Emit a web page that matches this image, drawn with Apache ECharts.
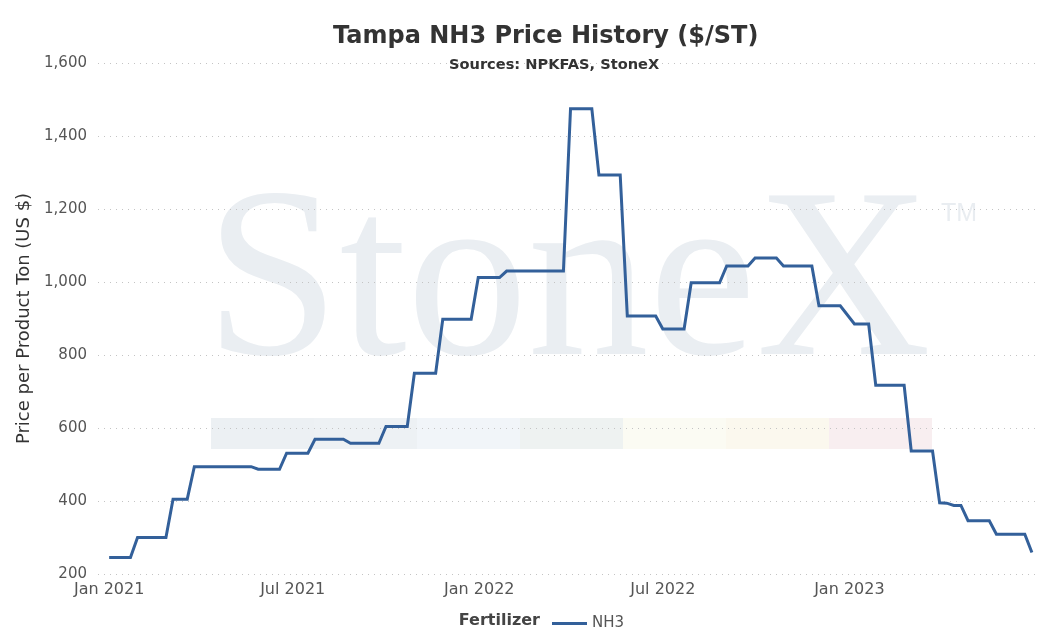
<!DOCTYPE html>
<html>
<head>
<meta charset="utf-8">
<script src="https://cdn.jsdelivr.net/npm/echarts@6/dist/echarts.min.js"></script>
<style>html,body{margin:0;padding:0;background:#fff}#c{width:1061px;height:643px}</style>
</head>
<body>
<div id="c"></div>
<script>
// Weekly price levels (first week date, last week date of the level, $/ST)
const levelStart = ['2021-01-01','2021-01-29','2021-03-05','2021-03-26','2021-05-28','2021-06-25','2021-07-23','2021-08-27','2021-10-01','2021-10-29','2021-11-26','2021-12-31','2022-01-28','2022-04-01','2022-04-29','2022-05-27','2022-07-01','2022-07-29','2022-09-02','2022-09-30','2022-10-28','2022-12-02','2023-01-06','2023-01-27','2023-03-03','2023-03-31','2023-04-07','2023-04-14','2023-04-28','2023-05-26','2023-06-30'];
const levelEnd   = ['2021-01-22','2021-02-26','2021-03-19','2021-05-21','2021-06-18','2021-07-16','2021-08-20','2021-09-24','2021-10-22','2021-11-19','2021-12-24','2022-01-21','2022-03-25','2022-04-22','2022-05-20','2022-06-24','2022-07-22','2022-08-26','2022-09-23','2022-10-21','2022-11-25','2022-12-23','2023-01-20','2023-02-24','2023-03-24','2023-03-31','2023-04-07','2023-04-21','2023-05-19','2023-06-23','2023-06-30'];
const nh3Price   = [245,300,405,494,487,531,569,558,604,750,898,1012,1030,1475,1293,907,871,998,1044,1066,1044,935,885,717,537,395,394,388,346,309,259];
const xTickLabels = ['2021-01-01','2021-07-01','2022-01-01','2022-07-01','2023-01-01'];
const xRange = ['2020-12-21','2023-07-07'];
const yTicks = [200,400,600,800,1000,1200,1400,1600];
const monthNames = ['Jan','Feb','Mar','Apr','May','Jun','Jul','Aug','Sep','Oct','Nov','Dec'];

function ts(s) { const p = s.split('-').map(Number); return Date.UTC(p[0], p[1]-1, p[2]); }

const points = [];
for (let i = 0; i < nh3Price.length; i++) {
  points.push([ts(levelStart[i]), nh3Price[i]]);
  if (levelEnd[i] !== levelStart[i]) points.push([ts(levelEnd[i]), nh3Price[i]]);
}

const FONT = '"DejaVu Sans", Verdana, sans-serif';
const bandColors = ['#ecf0f3','#edf1f4','#f1f5f9','#eef2f1','#fbfbf3','#fbf8ee','#f8eef0'];
const graphics = [];
bandColors.forEach((c, i) => {
  graphics.push({type:'rect', z:-1, silent:true, shape:{x:211 + i*103, y:418, width:103, height:31}, style:{fill:c}});
});
graphics.push({type:'text', z:-1, silent:true, style:{text:'StoneX', x:205, y:290, font:'242px "Liberation Serif"', fill:'#eaeef2', textAlign:'left', textVerticalAlign:'middle'}});
graphics.push({type:'text', z:-1, silent:true, style:{text:'TM', x:941, y:214, font:'25px "Liberation Sans"', fill:'#e9edf1', textAlign:'left', textVerticalAlign:'middle'}});
graphics.push({type:'text', silent:true, style:{text:'Fertilizer', x:540, y:621, font:'bold 16px ' + FONT, fill:'#444', textAlign:'right', textVerticalAlign:'middle'}});

const chart = echarts.init(document.getElementById('c'));
chart.setOption({
  animation: false,
  backgroundColor: '#fff',
  title: [
    {text:'Tampa NH3 Price History ($/ST)', left:328, top:20, textStyle:{fontFamily:FONT, fontSize:24, fontWeight:'bold', color:'#333'}},
    {text:'Sources: NPKFAS, StoneX', left:444, top:53, textStyle:{fontFamily:FONT, fontSize:14.6, fontWeight:'bold', color:'#333'}}
  ],
  graphic: graphics,
  legend: {
    data:[{name:'NH3', icon:'rect'}], left:547, top:611, itemWidth:35, itemHeight:3, itemGap:10,
    textStyle:{fontFamily:FONT, fontSize:15, color:'#555'}
  },
  grid: {left:98, right:22, top:63, bottom:69, containLabel:false},
  xAxis: {
    type:'value',
    min: ts(xRange[0]), max: ts(xRange[1]),
    axisLine:{show:false}, axisTick:{show:false}, splitLine:{show:false},
    axisLabel:{
      customValues: xTickLabels.map(ts),
      formatter: function (v) { const d = new Date(v); return monthNames[d.getUTCMonth()] + ' ' + d.getUTCFullYear(); },
      fontFamily:FONT, fontSize:16, color:'#555', margin:8, hideOverlap:false
    }
  },
  yAxis: {
    type:'value', min:yTicks[0], max:yTicks[yTicks.length-1], interval:200,
    name:'Price per Product Ton (US $)', nameLocation:'middle', nameGap:64, nameRotate:90,
    nameTextStyle:{fontFamily:FONT, fontSize:18, color:'#333'},
    axisLine:{show:false}, axisTick:{show:false},
    axisLabel:{fontFamily:FONT, fontSize:15, color:'#555', margin:11,
      formatter: v => String(v).replace(/\B(?=(\d{3})+(?!\d))/g, ',')},
    splitLine:{show:true, lineStyle:{color:'#c4c4c4', width:1, type:[1,5]}}
  },
  series: [{
    name:'NH3', type:'line', data: points, symbol:'none', showSymbol:false,
    lineStyle:{color:'#33609a', width:3, join:'miter'}, itemStyle:{color:'#33609a'}, z:5
  }]
});
</script>
</body>
</html>
